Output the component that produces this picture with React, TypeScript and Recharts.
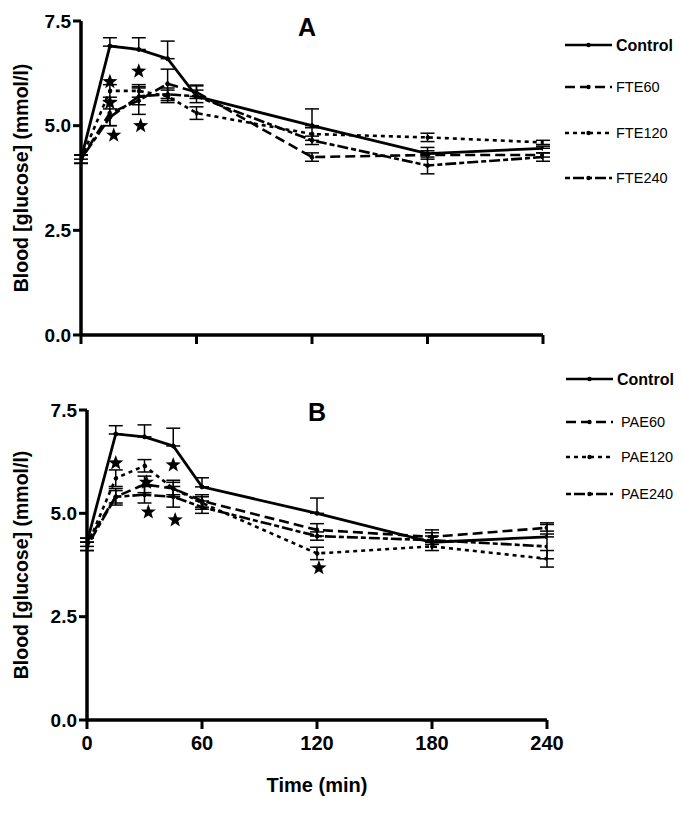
import React from 'react';
import { ComposedChart, Line, XAxis, YAxis, ErrorBar, Scatter } from 'recharts';

const FONT = '"Liberation Sans", Arial, Helvetica, sans-serif';

const TIMES = [0, 15, 30, 45, 60, 120, 180, 240];
const X_TICKS = [0, 60, 120, 180, 240];
const Y_TICKS = [0, 2.5, 5, 7.5];

// Panel A
const A_NAMES = ['Control', 'FTE60', 'FTE120', 'FTE240'];
const A_CONTROL = [4.2, 6.9, 6.82, 6.6, 5.7, 5.0, 4.33, 4.46];
const A_CONTROL_ERR = [0.1, 0.2, 0.28, 0.42, 0.27, 0.4, 0.15, 0.05];
const A_FTE60 = [4.2, 5.3, 5.6, 6.0, 5.8, 4.25, 4.3, 4.3];
const A_FTE60_ERR = [0.1, 0.3, 0.33, 0.35, 0.15, 0.1, 0.1, 0.05];
const A_FTE120 = [4.2, 5.83, 5.83, 5.7, 5.3, 4.8, 4.72, 4.6];
const A_FTE120_ERR = [0.1, 0.15, 0.15, 0.15, 0.15, 0.15, 0.1, 0.05];
const A_FTE240 = [4.2, 5.2, 5.7, 5.75, 5.7, 4.65, 4.05, 4.25];
const A_FTE240_ERR = [0.1, 0.2, 0.2, 0.15, 0.15, 0.1, 0.2, 0.1];
const A_STARS_T = [15, 15, 17, 30, 31];
const A_STARS_Y = [6.05, 5.55, 4.77, 6.3, 5.0];

// Panel B
const B_NAMES = ['Control', 'PAE60', 'PAE120', 'PAE240'];
const B_CONTROL = [4.3, 6.92, 6.85, 6.63, 5.64, 5.0, 4.3, 4.43];
const B_CONTROL_ERR = [0.1, 0.2, 0.29, 0.43, 0.22, 0.37, 0.3, 0.34];
const B_PAE60 = [4.3, 5.4, 5.7, 5.6, 5.3, 4.6, 4.43, 4.65];
const B_PAE60_ERR = [0.1, 0.15, 0.2, 0.2, 0.15, 0.15, 0.1, 0.08];
const B_PAE120 = [4.2, 5.85, 6.15, 5.6, 5.25, 4.03, 4.2, 3.9];
const B_PAE120_ERR = [0.1, 0.2, 0.15, 0.15, 0.15, 0.15, 0.1, 0.2];
const B_PAE240 = [4.2, 5.4, 5.45, 5.4, 5.15, 4.45, 4.35, 4.2];
const B_PAE240_ERR = [0.1, 0.2, 0.2, 0.25, 0.15, 0.1, 0.1, 0.3];
const B_STARS_T = [15, 31, 32, 45, 46, 121];
const B_STARS_Y = [6.22, 5.75, 5.03, 6.17, 4.84, 3.68];

const DASHES = ['', '10 5', '4 4', '5 3 11 3'];

function buildRows(c: number[], ce: number[], s1: number[], e1: number[], s2: number[], e2: number[], s3: number[], e3: number[]) {
  return TIMES.map((t, i) => ({
    t,
    s0: c[i], e0: [0, ce[i]],
    s1: s1[i], e1: e1[i],
    s2: s2[i], e2: e2[i],
    s3: s3[i], e3: e3[i],
  }));
}

const rowsA = buildRows(A_CONTROL, A_CONTROL_ERR, A_FTE60, A_FTE60_ERR, A_FTE120, A_FTE120_ERR, A_FTE240, A_FTE240_ERR);
const rowsB = buildRows(B_CONTROL, B_CONTROL_ERR, B_PAE60, B_PAE60_ERR, B_PAE120, B_PAE120_ERR, B_PAE240, B_PAE240_ERR);
const starsA = A_STARS_T.map((t, i) => ({ t, y: A_STARS_Y[i] }));
const starsB = B_STARS_T.map((t, i) => ({ t, y: B_STARS_Y[i] }));

function StarShape(props: any) {
  const { cx, cy } = props;
  if (cx == null || cy == null) return null;
  const pts: string[] = [];
  for (let k = 0; k < 10; k++) {
    const ang = -Math.PI / 2 + (k * Math.PI) / 5;
    const rad = k % 2 === 0 ? 8 : 3.3;
    pts.push(`${cx + rad * Math.cos(ang)},${cy + rad * Math.sin(ang)}`);
  }
  return <polygon points={pts.join(' ')} fill="#000" />;
}

type Geom = {
  height: number;
  top: number;
  bottom: number;
  xAxisHeight: number;
  yAxisWidth: number;
  right: number;
  showXLabels: boolean;
  title: string;
  titleX: number;
  titleY: number;
  legendRows: number[];
  legendLine: [number, number];
  legendTextX: number[];
};

function Panel({ rows, stars, names, g }: { rows: any[]; stars: any[]; names: string[]; g: Geom }) {
  const W = 674;
  const yLabel = (p: any) => {
    const vb = p.viewBox || {};
    const x = (vb.x || 0) + 13;
    const y = (vb.y || 0) + (vb.height || 0) / 2;
    return (
      <text
        x={x}
        y={y}
        transform={`rotate(-90, ${x}, ${y})`}
        textAnchor="middle"
        dominantBaseline="central"
        fontFamily={FONT}
        fontWeight="bold"
        fontSize={19.5}
        fill="#000"
      >
        Blood [glucose] (mmol/l)
      </text>
    );
  };
  return (
    <div style={{ position: 'relative', width: W, height: g.height, overflow: 'hidden' }}>
      <ComposedChart
        width={W}
        height={g.height}
        data={rows}
        margin={{ top: g.top, right: g.right, bottom: g.bottom, left: 0 }}
      >
        <XAxis
          dataKey="t"
          type="number"
          domain={[0, 240]}
          ticks={X_TICKS}
          allowDataOverflow
          height={g.xAxisHeight}
          axisLine={{ stroke: '#000', strokeWidth: 3.5 }}
          tickLine={{ stroke: '#000', strokeWidth: 3 }}
          tickSize={9}
          tickMargin={7}
          tickFormatter={(v: number) => (g.showXLabels ? String(v) : '')}
          tick={{ fill: '#000', fontSize: 20, fontWeight: 'bold', fontFamily: FONT }}
          label={
            g.showXLabels
              ? { value: 'Time (min)', position: 'insideBottom', offset: 8, fill: '#000', fontSize: 20, fontWeight: 'bold', fontFamily: FONT }
              : undefined
          }
        />
        <YAxis
          type="number"
          domain={[0, 7.5]}
          ticks={Y_TICKS}
          allowDataOverflow
          width={g.yAxisWidth}
          axisLine={{ stroke: '#000', strokeWidth: 3.5 }}
          tickLine={{ stroke: '#000', strokeWidth: 3 }}
          tickSize={8}
          tickMargin={2}
          tickFormatter={(v: number) => v.toFixed(1)}
          tick={{ fill: '#000', fontSize: 19, fontWeight: 'bold', fontFamily: FONT }}
          label={{ content: yLabel }}
        />
        {[0, 1, 2, 3].map((k) => (
          <Line
            key={k}
            dataKey={`s${k}`}
            name={names[k]}
            stroke="#000"
            strokeWidth={k === 0 ? 2.8 : 2.6}
            strokeDasharray={DASHES[k] || undefined}
            dot={{ r: 2, fill: '#000', stroke: '#000', strokeWidth: 1 }}
            isAnimationActive={false}
          >
            <ErrorBar dataKey={`e${k}`} width={7} stroke="#000" strokeWidth={1.5} direction="y" />
          </Line>
        ))}
        <Scatter data={stars} dataKey="y" shape={<StarShape />} isAnimationActive={false} legendType="none" />
      </ComposedChart>
      <svg
        width={W}
        height={g.height}
        style={{ position: 'absolute', left: 0, top: 0, pointerEvents: 'none' }}
      >
        <text
          x={g.titleX}
          y={g.titleY}
          textAnchor="middle"
          dominantBaseline="central"
          fontFamily={FONT}
          fontWeight="bold"
          fontSize={25}
          fill="#000"
        >
          {g.title}
        </text>
        {names.map((n, k) => {
          const y = g.legendRows[k];
          const [x1, x2] = g.legendLine;
          return (
            <g key={n}>
              <line x1={x1} x2={x2} y1={y} y2={y} stroke="#000" strokeWidth={2.5} strokeDasharray={DASHES[k] || undefined} />
              <circle cx={(x1 + x2) / 2} cy={y} r={2.2} fill="#000" />
              <text
                x={g.legendTextX[k]}
                y={y}
                dominantBaseline="central"
                fontFamily={FONT}
                fontWeight={k === 0 ? 'bold' : 'normal'}
                fontSize={k === 0 ? 16 : 14.5}
                fill="#000"
              >
                {n}
              </text>
            </g>
          );
        })}
      </svg>
    </div>
  );
}

const GEOM_A: Geom = {
  height: 342,
  top: 13,
  bottom: 3,
  xAxisHeight: 12,
  yAxisWidth: 73,
  right: 139,
  showXLabels: false,
  title: 'A',
  titleX: 299,
  titleY: 19,
  legendRows: [37, 79, 125, 170],
  legendLine: [557, 604],
  legendTextX: [608, 608, 608, 608],
};

const GEOM_B: Geom = {
  height: 465,
  top: 60,
  bottom: 15,
  xAxisHeight: 80,
  yAxisWidth: 79,
  right: 135,
  showXLabels: true,
  title: 'B',
  titleX: 309,
  titleY: 62,
  legendRows: [29, 72, 107, 144],
  legendLine: [558, 605],
  legendTextX: [609, 613, 613, 613],
};

export default function App() {
  return (
    <div style={{ width: 674, background: '#fff' }}>
      <style>{`html,body{overflow:hidden;background:#fff;}`}</style>
      <Panel rows={rowsA} stars={starsA} names={A_NAMES} g={GEOM_A} />
      <Panel rows={rowsB} stars={starsB} names={B_NAMES} g={GEOM_B} />
    </div>
  );
}
